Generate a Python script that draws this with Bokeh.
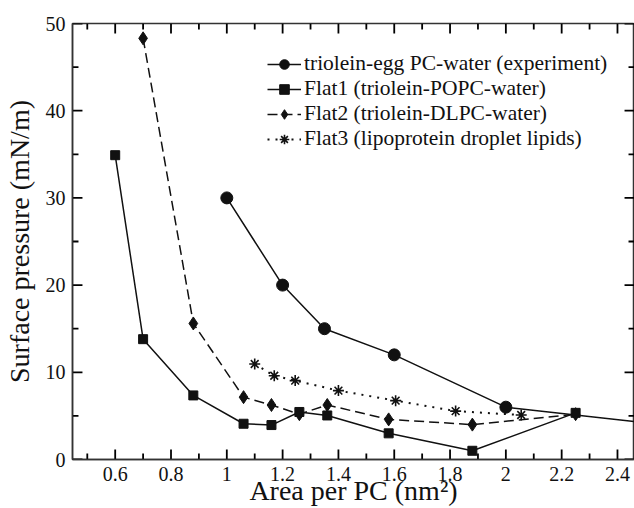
from bokeh.plotting import figure
from bokeh.models import (Range1d, FixedTicker, CustomJSTickFormatter, Legend, LegendItem, ColumnDataSource)
from bokeh.embed import file_html
from bokeh.resources import INLINE

# Data
exp_x = [1.0, 1.2, 1.35, 1.6, 2.0, 2.5]
exp_y = [30.0, 20.0, 15.0, 12.0, 6.0, 4.2]
flat1_x = [0.6, 0.7, 0.88, 1.06, 1.16, 1.26, 1.36, 1.58, 1.88, 2.25]
flat1_y = [34.9, 13.8, 7.35, 4.1, 3.95, 5.45, 5.05, 3.0, 1.0, 5.35]
flat2_x = [0.7, 0.88, 1.06, 1.16, 1.26, 1.36, 1.58, 1.88, 2.25]
flat2_y = [48.3, 15.6, 7.15, 6.25, 5.2, 6.25, 4.6, 4.0, 5.2]
flat3_x = [1.1, 1.17, 1.245, 1.4, 1.605, 1.82, 2.055]
flat3_y = [10.95, 9.6, 9.05, 7.9, 6.75, 5.55, 5.1]

labels = ["triolein-egg PC-water (experiment)",
          "Flat1 (triolein-POPC-water)",
          "Flat2 (triolein-DLPC-water)",
          "Flat3 (lipoprotein droplet lipids)"]

# Tick values
x_major = [0.6, 0.8, 1.0, 1.2, 1.4, 1.6, 1.8, 2.0, 2.2, 2.4]
x_minor = [0.5, 0.7, 0.9, 1.1, 1.3, 1.5, 1.7, 1.9, 2.1, 2.3]
y_major = [0, 10, 20, 30, 40, 50]
y_minor = [5, 15, 25, 35, 45]

FONT = "Liberation Serif"
INK = "#111111"
AX = "#333333"

X0, X1 = 0.447, 2.461
Y0, Y1 = 0, 50
W, H = 634, 508
B_LEFT, B_TOP, B_RIGHT = 70, 23, 0
FRAME_W, FRAME_H = 564, 437   # expected plot-area size in pixels

p = figure(width=W, height=H, output_backend="svg", toolbar_location=None,
           x_range=Range1d(X0, X1), y_range=Range1d(Y0, Y1),
           min_border_left=B_LEFT, min_border_top=B_TOP, min_border_right=B_RIGHT,
           min_border_bottom=0,
           x_axis_label="Area per PC (nm²)", y_axis_label="Surface pressure (mN/m)")
p.grid.visible = False
p.outline_line_color = AX
p.outline_line_width = 1.5
p.background_fill_color = "white"
p.border_fill_color = "white"

p.xaxis.ticker = FixedTicker(ticks=x_major)
p.yaxis.ticker = FixedTicker(ticks=y_major)
p.xaxis.formatter = CustomJSTickFormatter(code="return String(Number(tick.toFixed(1)));")

for ax in (p.xaxis[0], p.yaxis[0]):
    ax.major_tick_in = 0
    ax.major_tick_out = 0
    ax.minor_tick_in = 0
    ax.minor_tick_out = 0
    ax.axis_line_color = AX
    ax.axis_line_width = 1.5
    ax.major_label_text_font = FONT
    ax.major_label_text_font_size = "20px"
    ax.major_label_text_color = INK
    ax.axis_label_text_font = FONT
    ax.axis_label_text_font_size = "28px"
    ax.axis_label_text_font_style = "normal"
    ax.axis_label_text_color = INK
p.xaxis[0].major_label_standoff = 7
p.xaxis[0].axis_label_standoff = -9
p.yaxis[0].major_label_standoff = 7
p.yaxis[0].axis_label_standoff = 8

# inward tick marks on all four sides (lengths given in pixels)
MAJ, MIN = 10, 6
dy = (Y1 - Y0) / FRAME_H
dx = (X1 - X0) / FRAME_W


def x_ticks(vals, edge, length):
    n = len(vals)
    return ColumnDataSource(dict(x0=list(vals), x1=list(vals), y0=[edge] * n,
                                 y1=[edge + length] * n))


def y_ticks(vals, edge, length):
    n = len(vals)
    return ColumnDataSource(dict(x0=[edge] * n, x1=[edge + length] * n,
                                 y0=list(vals), y1=list(vals)))


tick_sources = [
    x_ticks(x_major, Y0, MAJ * dy), x_ticks(x_minor, Y0, MIN * dy),
    x_ticks(x_major, Y1, -MAJ * dy), x_ticks(x_minor, Y1, -MIN * dy),
    y_ticks(y_major, X0, MAJ * dx), y_ticks(y_minor, X0, MIN * dx),
    y_ticks(y_major, X1, -MAJ * dx), y_ticks(y_minor, X1, -MIN * dx),
]
for src in tick_sources:
    p.segment(x0="x0", y0="y0", x1="x1", y1="y1", source=src,
              line_color="#000000", line_width=1.8)

lw = 1.5
r_exp_l = p.line(exp_x, exp_y, line_color=INK, line_width=lw)
r_exp_m = p.scatter(exp_x, exp_y, marker="circle", size=12, fill_color=INK, line_color=INK)

r_f1_l = p.line(flat1_x, flat1_y, line_color=INK, line_width=lw)
r_f1_m = p.scatter(flat1_x, flat1_y, marker="square", size=9, fill_color=INK, line_color=INK)

r_f2_l = p.line(flat2_x, flat2_y, line_color=INK, line_width=lw, line_dash="10 5")
r_f2_m = p.scatter(flat2_x, flat2_y, marker="diamond", size=13, fill_color=INK, line_color=INK)

r_f3_l = p.line(flat3_x, flat3_y, line_color=INK, line_width=2, line_dash="2 6")
r_f3_m = p.scatter(flat3_x, flat3_y, marker="asterisk", size=11, line_color=INK, line_width=1.6)

legend = Legend(items=[
    LegendItem(label=labels[0], renderers=[r_exp_l, r_exp_m]),
    LegendItem(label=labels[1], renderers=[r_f1_l, r_f1_m]),
    LegendItem(label=labels[2], renderers=[r_f2_l, r_f2_m]),
    LegendItem(label=labels[3], renderers=[r_f3_l, r_f3_m]),
], location=(195, 308))
legend.border_line_color = None
legend.background_fill_alpha = 0
legend.padding = 0
legend.margin = 0
legend.spacing = 0
legend.glyph_width = 34
legend.glyph_height = 24
legend.label_height = 24
legend.label_standoff = 3
legend.label_text_font = FONT
legend.label_text_font_size = "21.5px"
legend.label_text_color = INK
p.add_layout(legend, "center")

open("out.html", "w").write(file_html(p, INLINE))
